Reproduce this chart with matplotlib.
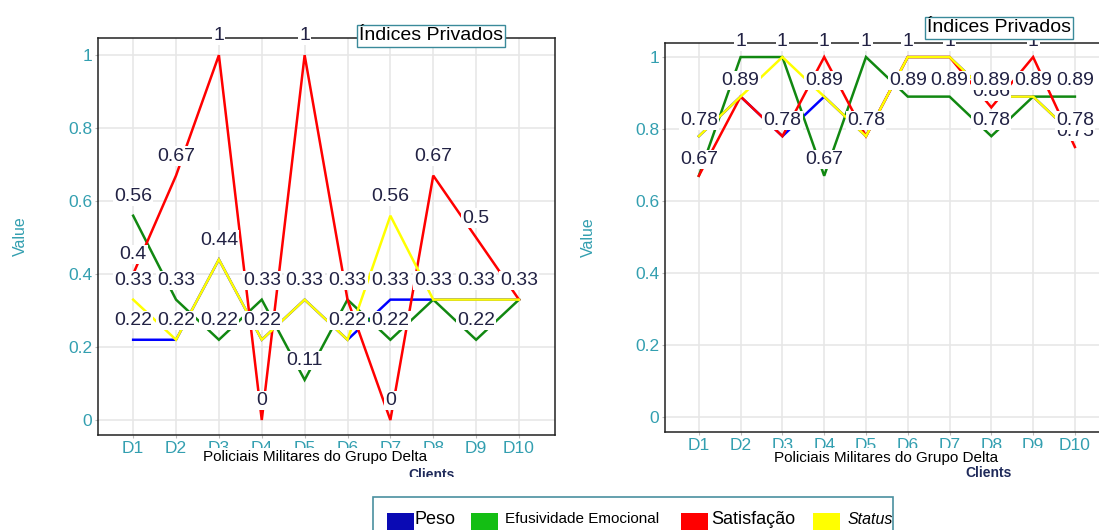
import matplotlib
matplotlib.use("Agg")
import matplotlib.pyplot as plt
from matplotlib.patches import Rectangle

# Dados
clientes = ["D1", "D2", "D3", "D4", "D5", "D6", "D7", "D8", "D9", "D10"]

peso_esq = [0.22, 0.22, 0.44, 0.22, 0.33, 0.22, 0.33, 0.33, 0.33, 0.33]
efus_esq = [0.56, 0.33, 0.22, 0.33, 0.11, 0.33, 0.22, 0.33, 0.22, 0.33]
satis_esq = [0.4, 0.67, 1, 0, 1, 0.33, 0, 0.67, 0.5, 0.33]
status_esq = [0.33, 0.22, 0.44, 0.22, 0.33, 0.22, 0.56, 0.33, 0.33, 0.33]

peso_dir = [0.78, 0.89, 0.78, 0.89, 0.78, 1, 1, 0.89, 0.89, 0.78]
efus_dir = [0.67, 1, 1, 0.67, 1, 0.89, 0.89, 0.78, 0.89, 0.89]
satis_dir = [0.67, 0.89, 0.78, 1, 0.78, 1, 1, 0.86, 1, 0.75]
status_dir = [0.78, 0.89, 1, 0.89, 0.78, 1, 1, 0.89, 0.89, 0.78]

series = ["Peso", "Efusividade Emocional", "Satisfação", "Status"]
cor_linha = ["#0000ff", "#118811", "#ff0000", "#ffff00"]
cor_legenda = ["#0a0ab4", "#14be14", "#ff0000", "#ffff00"]

TEAL = "#339fb0"
plt.rcParams["font.family"] = ["Liberation Sans", "DejaVu Sans"]

W, H = 1099, 530
fig = plt.figure(figsize=(W / 100, H / 100), dpi=100)


def px(x, y):
    return x / W, 1 - y / H


def painel(rect, valores, xlim, ylim, offset):
    ax = fig.add_axes(rect)
    x = list(range(1, len(clientes) + 1))
    for v, c in zip(valores, cor_linha):
        ax.plot(x, v, color=c, lw=1.8, zorder=3, solid_joinstyle="miter")
    for v in valores:
        for xi, yi in zip(x, v):
            ax.annotate(f"{round(yi, 2):g}", (xi, yi), xytext=(0, offset),
                        textcoords="offset points", ha="center", va="center",
                        fontsize=14, color="#222244", zorder=6, clip_on=False,
                        bbox=dict(boxstyle="square,pad=0.06", fc="white", ec="none"))
    ax.set_xlim(*xlim)
    ax.set_ylim(*ylim)
    ax.set_xticks(x)
    ax.set_xticklabels(clientes)
    ax.set_yticks([0, 0.2, 0.4, 0.6, 0.8, 1])
    ax.set_yticklabels(["0", "0.2", "0.4", "0.6", "0.8", "1"])
    ax.tick_params(colors="#bbbbbb", labelcolor=TEAL, labelsize=12.5, length=2, pad=2)
    ax.grid(True, color="#e6e6e6", lw=1.1)
    ax.set_axisbelow(True)
    for s in ax.spines.values():
        s.set_color("#222222")
        s.set_linewidth(1.1)
    ax.set_ylabel("Value", color=TEAL, fontsize=11.5)
    return ax


ax_esq = painel([98 / W, 95 / H, 457 / W, 397 / H],
                [peso_esq, efus_esq, satis_esq, status_esq],
                (0.18, 10.84), (-0.041, 1.047), 14)
ax_esq.yaxis.set_label_coords(-0.153, 0.5)

ax_dir = painel([665 / W, 98 / H, 445 / W, 389 / H],
                [peso_dir, efus_dir, satis_dir, status_dir],
                (0.19, 10.84), (-0.042, 1.039), 11.5)
ax_dir.yaxis.set_label_coords(-0.155, 0.5)

# Faixas brancas atrás dos títulos do eixo x
for x0, x1 in [(187, 453), (768, 1045)]:
    fig.patches.append(Rectangle(px(x0, 468), (x1 - x0) / W, 20 / H,
                                 transform=fig.transFigure, fc="white", ec="none", zorder=1))

fig.text(*px(315, 457), "Policiais Militares do Grupo Delta", ha="center", va="center",
         fontsize=11, color="black", zorder=2)
fig.text(*px(886, 458), "Policiais Militares do Grupo Delta", ha="center", va="center",
         fontsize=11, color="black", zorder=2)
fig.text(*px(432, 468), "Clients", ha="center", va="top", fontsize=10,
         fontweight="bold", color="#1f2a5a", zorder=2)
fig.text(*px(989, 466), "Clients", ha="center", va="top", fontsize=10,
         fontweight="bold", color="#1f2a5a", zorder=2)
fig.patches.append(Rectangle(px(400, 495), 70 / W, 18 / H, transform=fig.transFigure,
                             fc="white", ec="none", zorder=3))

# Títulos em caixa
for cx, cy in [(431, 36), (999, 28)]:
    fig.text(*px(cx, cy), "Índices Privados", ha="center", va="center", fontsize=14,
             color="black", zorder=7,
             bbox=dict(boxstyle="square,pad=0.12", fc="white", ec="#3a8a9a", lw=1.0))

# Legenda
fig.patches.append(Rectangle(px(373, 540), 520 / W, 43 / H, transform=fig.transFigure,
                             fc="white", ec="#4a90a0", lw=1.2, zorder=4))
chaves = [(387, 415, 13, "normal"), (471, 505, 11, "normal"),
          (681, 711, 13, "normal"), (813, 848, 11.5, "italic")]
for (xq, xt, fs, st), nome, c in zip(chaves, series, cor_legenda):
    fig.patches.append(Rectangle(px(xq, 531), 27 / W, 18 / H, transform=fig.transFigure,
                                 fc=c, ec="none", zorder=5))
    fig.text(*px(xt, 519), nome, ha="left", va="center", fontsize=fs, style=st,
             color="black", zorder=5)

fig.savefig("out.png", dpi=100)
